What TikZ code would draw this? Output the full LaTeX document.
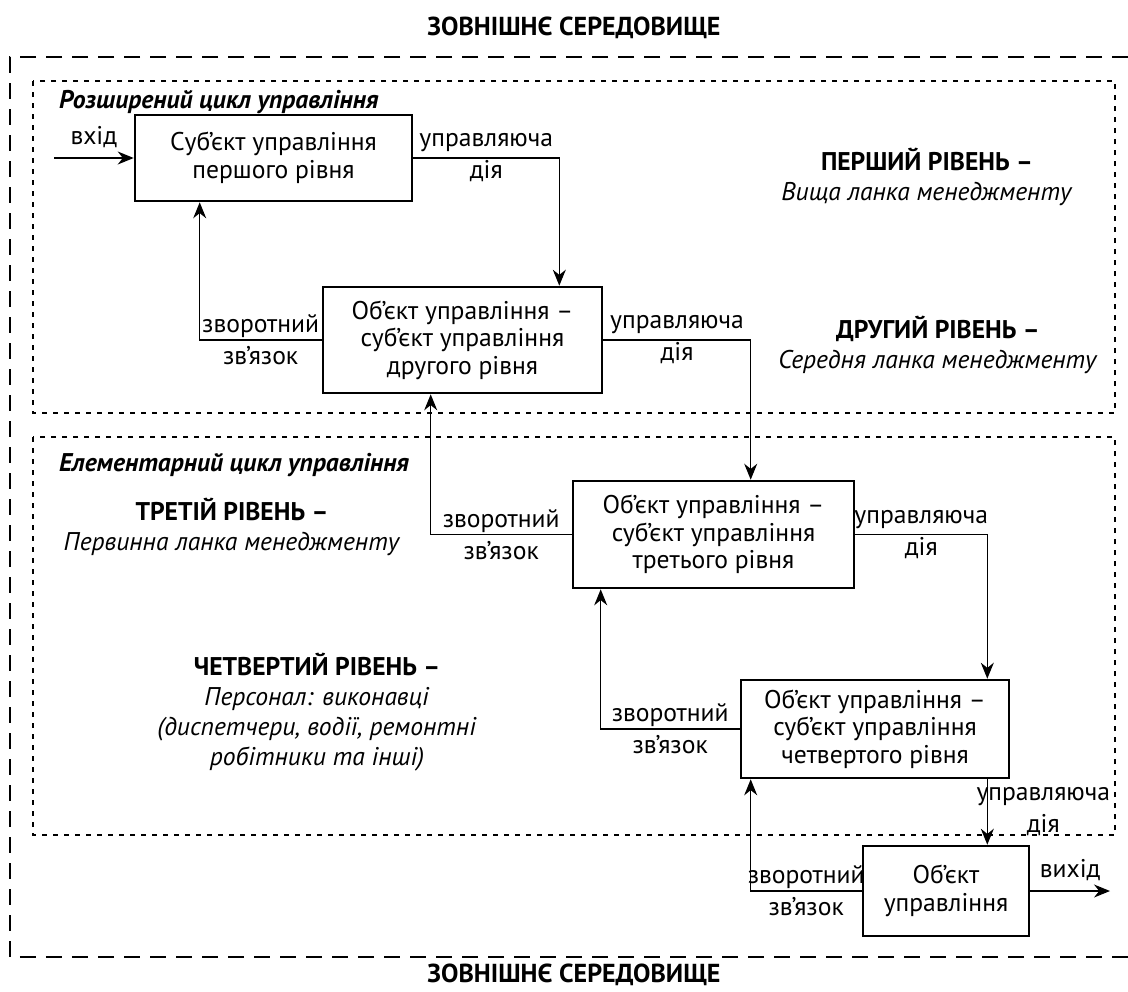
\documentclass[tikz,border=0pt]{standalone}
\usepackage{fontspec}
\setmainfont{PT Sans}
\usetikzlibrary{arrows.meta, positioning, calc}

\begin{document}
\begin{tikzpicture}[x=0.5pt, y=-0.5pt,
    blok/.style={draw, line width=1.3pt, align=center, inner sep=0pt, font=\fontsize{12.8}{13.8}\selectfont},
    zv/.style={line width=0.6pt, -{Stealth[length=8pt, width=6.5pt]}},
    mitka/.style={align=center, inner sep=0pt, font=\fontsize{12.8}{16}\selectfont},
    riven/.style={align=center, inner sep=0pt, font=\fontsize{12.8}{15}\selectfont}]
    \useasboundingbox (0,0) rectangle (1128,991);

    % Зовнішнє середовище
    \node[font=\bfseries\fontsize{13}{15}\selectfont] (zovn1) at (574,28) {ЗОВНІШНЄ СЕРЕДОВИЩЕ};
    \node[font=\bfseries\fontsize{13}{15}\selectfont] (zovn2) at (574,975) {ЗОВНІШНЄ СЕРЕДОВИЩЕ};
    \draw[line width=1.3pt, dash pattern=on 8pt off 5pt] (1128,57) -- (10,57) -- (10,957) -- (1128,957);

    % Цикли управління
    \draw[line width=0.6pt, dash pattern=on 2.5pt off 3pt] (33,81) rectangle (1115,413);
    \draw[line width=0.6pt, dash pattern=on 2.5pt off 3pt] (33,437) rectangle (1115,835);
    \node[anchor=west, font=\bfseries\itshape\fontsize{12.8}{15}\selectfont] (rozsh) at (52,102) {Розширений цикл управління};
    \node[anchor=west, font=\bfseries\itshape\fontsize{12.8}{15}\selectfont] (elem) at (52,465) {Елементарний цикл управління};

    % Рівні
    \node[riven] (r1) at (927,177) {\textbf{ПЕРШИЙ РІВЕНЬ –}\\\textit{Вища ланка менеджменту}};
    \node[riven] (r2) at (938,345) {\textbf{ДРУГИЙ РІВЕНЬ –}\\\textit{Середня ланка менеджменту}};
    \node[riven] (r3) at (232,527) {\textbf{ТРЕТІЙ РІВЕНЬ –}\\\textit{Первинна ланка менеджменту}};
    \node[riven] (r4) at (317,712) {\textbf{ЧЕТВЕРТИЙ РІВЕНЬ –}\\\textit{Персонал: виконавці}\\\textit{(диспетчери, водії, ремонтні}\\\textit{робітники та інші)}};

    % Блоки
    \node[blok, minimum width=138.5pt, minimum height=43pt] (b1) at (273.5,158) {Суб’єкт управління\\першого рівня};
    \node[blok, minimum width=139.5pt, minimum height=53pt] (b2) at (462.5,340) {Об’єкт управління –\\суб’єкт управління\\другого рівня};
    \node[blok, minimum width=140.5pt, minimum height=53.5pt] (b3) at (713.5,534.5) {Об’єкт управління –\\суб’єкт управління\\третього рівня};
    \node[blok, minimum width=134pt, minimum height=49pt] (b4) at (875,729) {Об’єкт управління –\\суб’єкт управління\\четвертого рівня};
    \node[blok, minimum width=83pt, minimum height=45pt] (b5) at (946,891) {Об’єкт\\управління};

    % Зв'язки
    \coordinate (vhid) at (54,158);
    \coordinate (vyhid) at (1110,891);
    \coordinate (v4) at ([xshift=-11.5pt]b4.south east);
    \draw[zv] (vhid) -- (b1.west) node[midway, above=5pt, mitka] (l0) {вхід};
    \draw[zv] (b1.east) -| ([xshift=-22pt]b2.north east) node[pos=0.25, mitka] (l1) {управляюча\\дія};
    \draw[zv] (b2.west) -| ([xshift=33pt]b1.south west) node[pos=0.25, mitka] (l2) {зворотний\\зв’язок};
    \draw[zv] (b2.east) -| ([xshift=89.5pt]b3.north west) node[pos=0.25, mitka] (l3) {управляюча\\дія};
    \draw[zv] (b3.west) -| ([xshift=54.5pt]b2.south west) node[pos=0.25, mitka] (l4) {зворотний\\зв’язок};
    \draw[zv] (b3.east) -| ([xshift=-11.5pt]b4.north east) node[pos=0.25, mitka] (l5) {управляюча\\дія};
    \draw[zv] (b4.west) -| ([xshift=14.5pt]b3.south west) node[pos=0.25, mitka] (l6) {зворотний\\зв’язок};
    \draw[zv] (v4) -- (v4 |- b5.north) node[midway, xshift=28pt, mitka] (l7) {управляюча\\дія};
    \draw[zv] (b5.west) -| ([xshift=5.5pt]b4.south west) node[pos=0.25, mitka] (l8) {зворотний\\зв’язок};
    \draw[zv] (b5.east) -- (vyhid) node[midway, above=5pt, mitka] (l9) {вихід};
\end{tikzpicture}
\end{document}
